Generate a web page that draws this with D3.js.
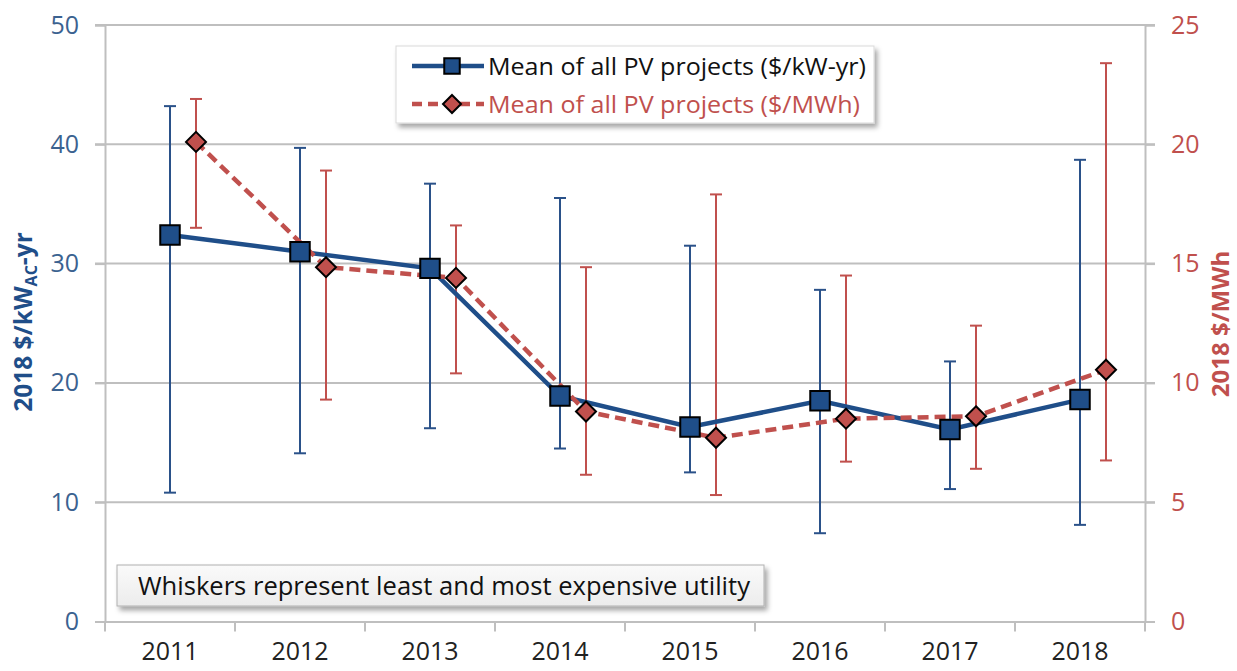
<!DOCTYPE html>
<html>
<head>
<meta charset="utf-8">
<script src="https://cdn.jsdelivr.net/npm/d3@7"></script>
<style>
  body { margin: 0; background: #fff; }
  svg { display: block; font-family: "Open Sans", "Noto Sans", sans-serif; }
</style>
</head>
<body>
<div id="chart"></div>
<script>
/* PV O&M cost by year, two axes */

const years = ["2011", "2012", "2013", "2014", "2015", "2016", "2017", "2018"];

// $/kW-yr (left axis)
const kwMean = [32.4, 31.0, 29.6, 18.9, 16.3, 18.5, 16.1, 18.6];
const kwMin  = [10.8, 14.1, 16.2, 14.5, 12.5, 7.4, 11.1, 8.1];
const kwMax  = [43.2, 39.7, 36.7, 35.5, 31.5, 27.8, 21.8, 38.7];

// $/MWh (right axis)
const mwhMean = [20.1, 14.85, 14.4, 8.8, 7.7, 8.5, 8.6, 10.55];
const mwhMin  = [16.5, 9.3, 10.4, 6.15, 5.3, 6.7, 6.4, 6.75];
const mwhMax  = [21.9, 18.9, 16.6, 14.85, 17.9, 14.5, 12.4, 23.4];

const leftTicks = [0, 10, 20, 30, 40, 50];
const rightTicks = [0, 5, 10, 15, 20, 25];

const width = 1237,
      height = 671,
      margin = ({ top: 25, right: 92, bottom: 49.5, left: 105 });

const blue = "#1f4e89",
      red = "#c0504d",
      grid = "#bfbfbf";

let svg = d3.select("#chart")
            .append("svg")
            .attr("width", width)
            .attr("height", height)
            .attr("viewBox", [0, 0, width, height]);

const defs = svg.append("defs");
defs.append("filter").attr("id", "shadow")
    .attr("x", "-5%").attr("y", "-20%").attr("width", "115%").attr("height", "160%")
  .append("feDropShadow")
    .attr("dx", 3).attr("dy", 4).attr("stdDeviation", 2.5)
    .attr("flood-color", "#000").attr("flood-opacity", 0.35);
const grad = defs.append("linearGradient").attr("id", "noteFill")
    .attr("x1", 0).attr("y1", 0).attr("x2", 0).attr("y2", 1);
grad.append("stop").attr("offset", "0%").attr("stop-color", "#fafafa");
grad.append("stop").attr("offset", "100%").attr("stop-color", "#ececec");

const x = d3.scaleBand()
            .domain(years)
            .range([margin.left, width - margin.right])
            .padding(0);

const redShift = 26;

const yL = d3.scaleLinear()
             .domain([0, 50])
             .range([height - margin.bottom, margin.top]);

const yR = d3.scaleLinear()
             .domain([0, 25])
             .range([height - margin.bottom, margin.top]);

// gridlines
svg.append("g")
    .selectAll("line")
    .data(leftTicks.filter(d => d > 0))
    .join("line")
    .attr("x1", margin.left - 10)
    .attr("x2", width - margin.right + 10)
    .attr("y1", d => yL(d))
    .attr("y2", d => yL(d))
    .attr("stroke", grid)
    .attr("stroke-width", 2);

// left axis
const yAxisL = g => g
    .attr("transform", `translate(${margin.left},0)`)
    .call(d3.axisLeft(yL).tickValues(leftTicks).tickSize(10).tickPadding(16))
    .call(g => g.select(".domain").attr("stroke", grid).attr("stroke-width", 2))
    .call(g => g.selectAll(".tick line").attr("stroke", grid).attr("stroke-width", 2))
    .call(g => g.selectAll("text")
        .attr("fill", "#3b6290")
        .attr("font-size", 25)
        .attr("font-family", "Open Sans"));

// right axis
const yAxisR = g => g
    .attr("transform", `translate(${width - margin.right},0)`)
    .call(d3.axisRight(yR).tickValues(rightTicks).tickSize(10).tickPadding(16))
    .call(g => g.select(".domain").attr("stroke", grid).attr("stroke-width", 2))
    .call(g => g.selectAll(".tick line").attr("stroke", grid).attr("stroke-width", 2))
    .call(g => g.selectAll("text")
        .attr("fill", red)
        .attr("font-size", 25)
        .attr("font-family", "Open Sans"));

// bottom axis, ticks at band edges
const xAxis = g => g
    .attr("transform", `translate(0,${height - margin.bottom})`)
    .call(d3.axisBottom(x).tickSize(0).tickPadding(21))
    .call(g => g.select(".domain").attr("stroke", grid).attr("stroke-width", 2))
    .call(g => g.selectAll("text")
        .attr("fill", "#222")
        .attr("font-size", 25)
        .attr("font-family", "Open Sans"));

svg.append("g").call(xAxis);
svg.append("g")
    .selectAll("line")
    .data(years.concat(["end"]))
    .join("line")
    .attr("x1", (d, i) => margin.left + i * x.bandwidth())
    .attr("x2", (d, i) => margin.left + i * x.bandwidth())
    .attr("y1", height - margin.bottom)
    .attr("y2", height - margin.bottom + 10)
    .attr("stroke", grid)
    .attr("stroke-width", 2);

svg.append("g").call(yAxisL);
svg.append("g").call(yAxisR);

// axis titles
const leftTitle = svg.append("text")
    .attr("transform", "translate(32,322) rotate(-90)")
    .attr("text-anchor", "middle")
    .attr("fill", blue)
    .attr("font-size", 24.5)
    .attr("font-weight", "bold");
leftTitle.append("tspan").text("2018 $/kW");
leftTitle.append("tspan").attr("font-size", 16).attr("dy", 5).text("AC");
leftTitle.append("tspan").attr("dy", -5).text("-yr");

svg.append("text")
    .attr("transform", "translate(1229,324) rotate(-90)")
    .attr("text-anchor", "middle")
    .attr("fill", red)
    .attr("font-size", 24)
    .attr("font-weight", "bold")
    .text("2018 $/MWh");

// whiskers
const whisker = (g, xs, lo, hi, y, color) => {
    const rows = years.map((d, i) => ({ x: xs(d), lo: lo[i], hi: hi[i] }));
    g.selectAll(".stem").data(rows).join("line")
        .attr("x1", d => d.x).attr("x2", d => d.x)
        .attr("y1", d => y(d.lo)).attr("y2", d => y(d.hi))
        .attr("stroke", color).attr("stroke-width", 2);
    g.selectAll(".capLo").data(rows).join("line").attr("class", "capLo")
        .attr("x1", d => d.x - 6).attr("x2", d => d.x + 6)
        .attr("y1", d => y(d.lo)).attr("y2", d => y(d.lo))
        .attr("stroke", color).attr("stroke-width", 2);
    g.selectAll(".capHi").data(rows).join("line").attr("class", "capHi")
        .attr("x1", d => d.x - 6).attr("x2", d => d.x + 6)
        .attr("y1", d => y(d.hi)).attr("y2", d => y(d.hi))
        .attr("stroke", color).attr("stroke-width", 2);
};

const xBlue = d => x(d) + x.bandwidth() / 2;
const xRed = d => x(d) + x.bandwidth() / 2 + redShift;

svg.append("g").call(g => whisker(g, xBlue, kwMin, kwMax, yL, "#2a5189"));
svg.append("g").call(g => whisker(g, xRed, mwhMin, mwhMax, yR, red));

// lines
const blueLine = d3.line()
    .x((d, i) => xBlue(years[i]))
    .y(d => yL(d));

const redLine = d3.line()
    .x((d, i) => xRed(years[i]))
    .y(d => yR(d));

svg.append("path")
    .datum(kwMean)
    .attr("d", blueLine)
    .attr("fill", "none")
    .attr("stroke", blue)
    .attr("stroke-width", 4.5);

svg.append("path")
    .datum(mwhMean)
    .attr("d", redLine)
    .attr("fill", "none")
    .attr("stroke", red)
    .attr("stroke-width", 4.5)
    .attr("stroke-dasharray", "11,6");

// markers
const square = d3.symbol().type(d3.symbolSquare).size(380);
const diamond = "M0,-10L10,0L0,10L-10,0Z";

svg.append("g")
    .selectAll("path")
    .data(kwMean)
    .join("path")
    .attr("transform", (d, i) => `translate(${xBlue(years[i])},${yL(d)})`)
    .attr("d", square)
    .attr("fill", blue)
    .attr("stroke", "#000")
    .attr("stroke-width", 2);

svg.append("g")
    .selectAll("path")
    .data(mwhMean)
    .join("path")
    .attr("transform", (d, i) => `translate(${xRed(years[i])},${yR(d)})`)
    .attr("d", diamond)
    .attr("fill", red)
    .attr("stroke", "#000")
    .attr("stroke-width", 2);

// legend
const legend = svg.append("g").attr("transform", "translate(396,46)");
legend.append("rect")
    .attr("width", 478).attr("height", 77)
    .attr("fill", "#fff")
    .attr("stroke", "#d9d9d9")
    .attr("filter", "url(#shadow)");

const items = [
    { label: "Mean of all PV projects ($/kW-yr)", color: blue, text: "#111", dash: null, mark: "square" },
    { label: "Mean of all PV projects ($/MWh)", color: red, text: red, dash: "10,6", mark: "diamond" }
];

items.forEach((it, i) => {
    const gy = 20 + i * 38;
    const row = legend.append("g").attr("transform", `translate(0,${gy})`);
    row.append("line")
        .attr("x1", 16).attr("x2", 88)
        .attr("stroke", it.color).attr("stroke-width", 4.5)
        .attr("stroke-dasharray", it.dash);
    row.append("path")
        .attr("transform", "translate(56,0)")
        .attr("d", it.mark === "square" ? d3.symbol().type(d3.symbolSquare).size(240)() : "M0,-9L9,0L0,9L-9,0Z")
        .attr("fill", it.color)
        .attr("stroke", "#000")
        .attr("stroke-width", 2);
    row.append("text")
        .attr("x", 92)
        .attr("dy", "0.35em")
        .attr("fill", it.text)
        .attr("font-size", 24.5)
        .attr("textLength", i === 0 ? 378 : 372)
        .attr("lengthAdjust", "spacingAndGlyphs")
        .text(it.label);
});

// note box
const note = svg.append("g").attr("transform", "translate(117,565)");
note.append("rect")
    .attr("width", 647).attr("height", 41)
    .attr("fill", "url(#noteFill)")
    .attr("stroke", "#b0b0b0")
    .attr("filter", "url(#shadow)");
note.append("text")
    .attr("x", 21)
    .attr("y", 21)
    .attr("dy", "0.35em")
    .attr("fill", "#111")
    .attr("font-size", 25)
    .attr("textLength", 612)
    .attr("lengthAdjust", "spacingAndGlyphs")
    .text("Whiskers represent least and most expensive utility");
</script>
</body>
</html>
